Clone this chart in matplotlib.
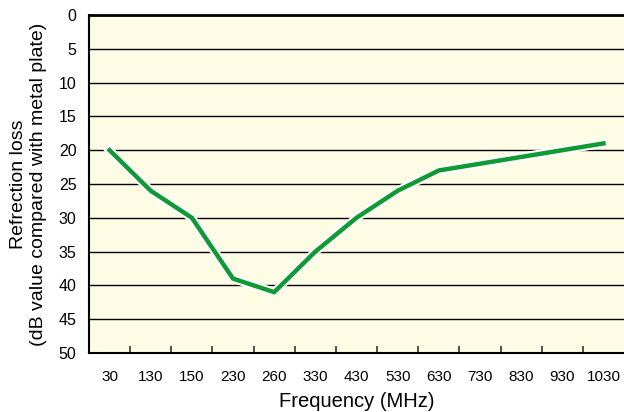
import matplotlib
matplotlib.use("Agg")
from matplotlib import pyplot as plt
import matplotlib.patheffects as pe
import numpy as np

plt.rcParams['font.family'] = ['Liberation Sans', 'DejaVu Sans']

# data
freq_labels = ['30', '130', '150', '230', '260', '330', '430', '530',
               '630', '730', '830', '930', '1030']
loss_db = [20, 26, 30, 39, 41, 35, 30, 26, 23, 22, 21, 20, 19]

fig = plt.figure(figsize=(6.24, 4.12), dpi=100)
ax = fig.add_axes([0.1426, 0.1432, 0.8574, 0.8204])
ax.set_facecolor('#fffce6')

x = np.arange(len(freq_labels))
ax.plot(x, loss_db, color='#119933', lw=3.2, solid_joinstyle='miter',
        path_effects=[pe.Stroke(linewidth=6.2, foreground='white'), pe.Normal()],
        zorder=3)

# y axis: 0 on top, 50 at bottom
ax.set_ylim(50, 0)
ax.set_yticks(range(0, 51, 5))
ax.yaxis.grid(True, color='black', lw=1.0)
ax.set_axisbelow(True)

ax.set_xlim(-0.5, len(freq_labels) - 0.5)
ax.set_xticks(x)
ax.set_xticklabels(freq_labels)
ax.set_xticks(np.arange(0.5, len(freq_labels) - 1, 1), minor=True)
ax.tick_params(axis='x', which='major', length=0, pad=12, labelsize=11)
ax.tick_params(axis='x', which='minor', direction='in', length=5, width=1.2, color='#333333')
ax.tick_params(axis='y', length=0, pad=9, labelsize=11.5)

ax.spines['right'].set_visible(False)
ax.spines['top'].set_linewidth(2)
ax.spines['left'].set_linewidth(1.5)
ax.spines['bottom'].set_linewidth(1.5)

ax.set_xlabel('Frequency (MHz)', fontsize=14.5, labelpad=6)
ax.set_ylabel('Refrection loss\n(dB value compared with metal plate)', fontsize=14,
              labelpad=8, linespacing=1.3)

plt.savefig('out.png', dpi=100)
